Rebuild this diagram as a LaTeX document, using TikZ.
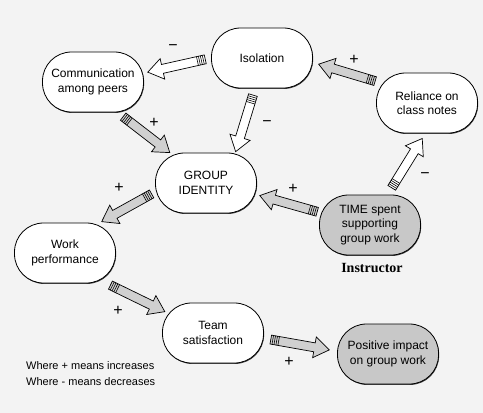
\documentclass[tikz,border=0pt]{standalone}
\usepackage{fontspec}
\setmainfont{Liberation Sans}
\newfontfamily\serifbold{Liberation Serif}
\usetikzlibrary{calc, shadows}
\definecolor{paper}{HTML}{F3F3F3}
\definecolor{shade}{HTML}{C8C8C8}
\definecolor{arrowfill}{HTML}{D0D0D0}
\tikzset{
  factor/.style={rectangle, draw, line width=0.8pt, rounded corners=29pt, minimum width=101pt, minimum height=60pt, align=center, fill=white, font=\fontsize{12}{14.5}\selectfont, drop shadow={shadow xshift=0.6pt, shadow yshift=-0.9pt, fill=black!75, opacity=1}},
  actor/.style={factor, fill=shade},
  sign/.style={font=\fontsize{16}{16}\selectfont, inner sep=1pt},
  fatline/.style={draw, line width=0.7pt, line join=miter},
  legend/.style={font=\fontsize{11}{16}\selectfont, align=left, anchor=north west, inner sep=0pt}
}
% block arrow with a ribbed tail: from, to, tail gap, tip gap, fill
\newcommand\fatarrow[5]{%
  \coordinate (fs) at ($(#1)!#3!(#2)$);
  \coordinate (fe) at ($(#2)!#4!(#1)$);
  \coordinate (fh) at ($(fe)!15pt!(fs)$);
  \draw[fatline, fill=#5] ($(fs)!4.5pt!90:(fe)$) -- ($(fh)!4.5pt!90:(fe)$) -- ($(fh)!10.5pt!90:(fe)$) -- (fe) -- ($(fh)!10.5pt!-90:(fe)$) -- ($(fh)!4.5pt!-90:(fe)$) -- ($(fs)!4.5pt!-90:(fe)$) -- cycle;
  \foreach \d in {2pt,4pt,6pt,8pt} {
    \coordinate (fk) at ($(fs)!\d!(fe)$);
    \draw[line width=0.6pt] ($(fk)!4.5pt!90:(fe)$) -- ($(fk)!4.5pt!-90:(fe)$);
  }%
}

\begin{document}
\begin{tikzpicture}[x=1pt, y=-1pt]
  \fill[paper] (0,0) rectangle (483,413);

  % Nodes
  \node[factor] (iso) at (262,58) {Isolation};
  \node[factor] (comm) at (93,82) {Communication\\among peers};
  \node[factor] (rely) at (427,103) {Reliance on\\class notes};
  \node[factor] (group) at (206,183) {GROUP\\IDENTITY};
  \node[actor] (time) at (370,225) {TIME spent\\supporting\\group work};
  \node[font=\serifbold\bfseries\fontsize{14}{14}\selectfont] (instr) at (372,268) {Instructor};
  \node[factor] (work) at (65,253) {Work\\performance};
  \node[factor] (team) at (213,333) {Team\\satisfaction};
  \node[actor] (impact) at (388,354) {Positive impact\\on group work};
  \node[legend] (key) at (26,361) {Where + means increases\\Where - means decreases};

  % Connections
  \fatarrow{iso.180}{comm.10}{6pt}{4pt}{white}
  \fatarrow{iso.257}{group.46}{7pt}{1pt}{white}
  \fatarrow{rely.157}{iso.-5}{1pt}{6pt}{arrowfill}
  \fatarrow{comm.-51}{group.140}{7pt}{0pt}{arrowfill}
  \fatarrow{time.60}{rely.267}{8pt}{6pt}{white}
  \fatarrow{time.166}{group.-13}{2pt}{3pt}{arrowfill}
  \fatarrow{group.190}{work.41}{4pt}{2pt}{arrowfill}
  \fatarrow{work.-36}{team.156}{4pt}{-3pt}{arrowfill}
  \fatarrow{team.-6}{impact.177}{7pt}{8pt}{arrowfill}

  % Signs
  \node[sign] (s1) at (173,48) {−};
  \node[sign] (s2) at (267,124) {−};
  \node[sign] (s3) at (354,60) {+};
  \node[sign] (s4) at (154,123) {+};
  \node[sign] (s5) at (425,176) {−};
  \node[sign] (s6) at (293,189) {+};
  \node[sign] (s7) at (119,188) {+};
  \node[sign] (s8) at (118,311) {+};
  \node[sign] (s9) at (289,362) {+};
\end{tikzpicture}
\end{document}
